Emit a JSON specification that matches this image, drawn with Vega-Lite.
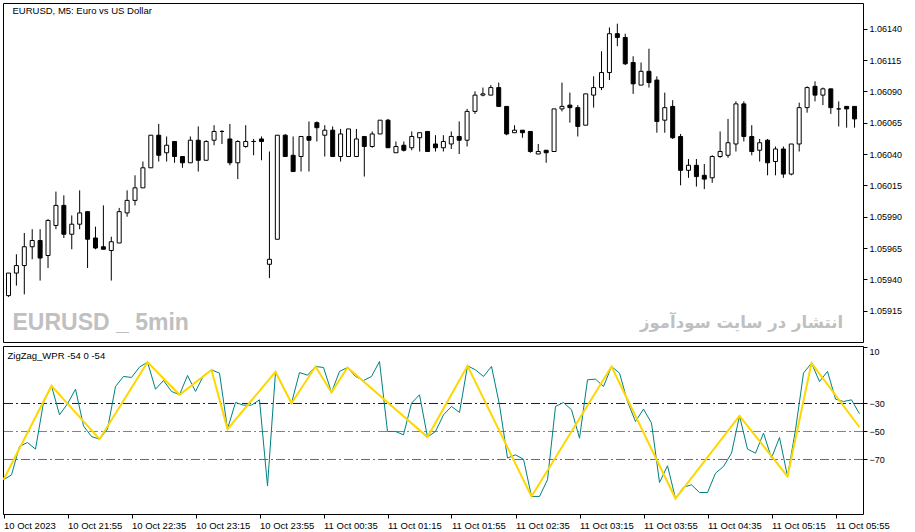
{
  "$schema": "https://vega.github.io/schema/vega-lite/v6.json",
  "padding": {"left": 2, "top": 2, "right": 0, "bottom": 0},
  "spacing": 2,
  "datasets": {
    "bars": [
      {"t": "2023-10-10T21:15", "o": 1.05927, "h": 1.05945, "l": 1.05926, "c": 1.05945, "w": -84.5},
      {"t": "2023-10-10T21:20", "o": 1.05945, "h": 1.0596, "l": 1.05935, "c": 1.05951, "w": -81},
      {"t": "2023-10-10T21:25", "o": 1.05951, "h": 1.05977, "l": 1.05928, "c": 1.05966, "w": -60.7},
      {"t": "2023-10-10T21:30", "o": 1.05966, "h": 1.0598, "l": 1.05956, "c": 1.05971, "w": -57.9},
      {"t": "2023-10-10T21:35", "o": 1.05971, "h": 1.0598, "l": 1.05939, "c": 1.05957, "w": -62.6},
      {"t": "2023-10-10T21:40", "o": 1.05959, "h": 1.05988, "l": 1.05949, "c": 1.05987, "w": -29.3},
      {"t": "2023-10-10T21:45", "o": 1.05983, "h": 1.0601, "l": 1.0598, "c": 1.05999, "w": -17.4},
      {"t": "2023-10-10T21:50", "o": 1.05999, "h": 1.06007, "l": 1.05973, "c": 1.05976, "w": -38.1},
      {"t": "2023-10-10T21:55", "o": 1.05976, "h": 1.05991, "l": 1.05964, "c": 1.05984, "w": -30.2},
      {"t": "2023-10-10T22:00", "o": 1.05984, "h": 1.06011, "l": 1.0598, "c": 1.05993, "w": -19.8},
      {"t": "2023-10-10T22:05", "o": 1.05994, "h": 1.05994, "l": 1.05949, "c": 1.05972, "w": -46},
      {"t": "2023-10-10T22:10", "o": 1.05973, "h": 1.05982, "l": 1.05964, "c": 1.05965, "w": -53.6},
      {"t": "2023-10-10T22:15", "o": 1.05966, "h": 1.05999, "l": 1.05964, "c": 1.05964, "w": -55.5},
      {"t": "2023-10-10T22:20", "o": 1.05963, "h": 1.05974, "l": 1.05939, "c": 1.0597, "w": -48.3},
      {"t": "2023-10-10T22:25", "o": 1.05969, "h": 1.05997, "l": 1.05969, "c": 1.05994, "w": -17.9},
      {"t": "2023-10-10T22:30", "o": 1.05993, "h": 1.06011, "l": 1.0599, "c": 1.06003, "w": -10.7},
      {"t": "2023-10-10T22:35", "o": 1.06003, "h": 1.06023, "l": 1.05999, "c": 1.06013, "w": -11.4},
      {"t": "2023-10-10T22:40", "o": 1.06013, "h": 1.06034, "l": 1.06013, "c": 1.06029, "w": -4},
      {"t": "2023-10-10T22:45", "o": 1.06029, "h": 1.06055, "l": 1.06029, "c": 1.06055, "w": -0.5},
      {"t": "2023-10-10T22:50", "o": 1.06055, "h": 1.06064, "l": 1.06034, "c": 1.06039, "w": -19.8},
      {"t": "2023-10-10T22:55", "o": 1.06041, "h": 1.06054, "l": 1.06034, "c": 1.06047, "w": -13.6},
      {"t": "2023-10-10T23:00", "o": 1.0605, "h": 1.0605, "l": 1.06033, "c": 1.06038, "w": -21.4},
      {"t": "2023-10-10T23:05", "o": 1.06038, "h": 1.06038, "l": 1.06029, "c": 1.06033, "w": -23.8},
      {"t": "2023-10-10T23:10", "o": 1.06033, "h": 1.06054, "l": 1.06033, "c": 1.06051, "w": -10},
      {"t": "2023-10-10T23:15", "o": 1.06051, "h": 1.06062, "l": 1.06026, "c": 1.06035, "w": -21.4},
      {"t": "2023-10-10T23:20", "o": 1.06035, "h": 1.06051, "l": 1.06035, "c": 1.0605, "w": -10.2},
      {"t": "2023-10-10T23:25", "o": 1.06051, "h": 1.06063, "l": 1.06047, "c": 1.06058, "w": -6},
      {"t": "2023-10-10T23:30", "o": 1.06058, "h": 1.06059, "l": 1.06048, "c": 1.06058, "w": -8.3},
      {"t": "2023-10-10T23:35", "o": 1.06052, "h": 1.06064, "l": 1.06031, "c": 1.06033, "w": -48.3},
      {"t": "2023-10-10T23:40", "o": 1.06033, "h": 1.06051, "l": 1.0602, "c": 1.0605, "w": -29.3},
      {"t": "2023-10-10T23:45", "o": 1.06046, "h": 1.06063, "l": 1.06045, "c": 1.0605, "w": -31.2},
      {"t": "2023-10-10T23:50", "o": 1.0605, "h": 1.06052, "l": 1.06039, "c": 1.0605, "w": -31.2},
      {"t": "2023-10-10T23:55", "o": 1.06052, "h": 1.06054, "l": 1.06035, "c": 1.0605, "w": -27.4},
      {"t": "2023-10-11T00:00", "o": 1.05952, "h": 1.06042, "l": 1.05941, "c": 1.05956, "w": -88.8},
      {"t": "2023-10-11T00:05", "o": 1.05972, "h": 1.06055, "l": 1.05972, "c": 1.06055, "w": -7.4},
      {"t": "2023-10-11T00:10", "o": 1.06055, "h": 1.06056, "l": 1.06038, "c": 1.06038, "w": -19},
      {"t": "2023-10-11T00:15", "o": 1.06039, "h": 1.06054, "l": 1.06026, "c": 1.06026, "w": -29.8},
      {"t": "2023-10-11T00:20", "o": 1.06038, "h": 1.06054, "l": 1.06026, "c": 1.06054, "w": -7.9},
      {"t": "2023-10-11T00:25", "o": 1.06054, "h": 1.06066, "l": 1.06026, "c": 1.06051, "w": -9.8},
      {"t": "2023-10-11T00:30", "o": 1.06065, "h": 1.06066, "l": 1.0605, "c": 1.06061, "w": -3.6},
      {"t": "2023-10-11T00:35", "o": 1.06055, "h": 1.06063, "l": 1.06038, "c": 1.06059, "w": -4.3},
      {"t": "2023-10-11T00:40", "o": 1.06059, "h": 1.06062, "l": 1.06038, "c": 1.06038, "w": -22.1},
      {"t": "2023-10-11T00:45", "o": 1.06038, "h": 1.0606, "l": 1.06034, "c": 1.06056, "w": -7.1},
      {"t": "2023-10-11T00:50", "o": 1.06038, "h": 1.0606, "l": 1.06038, "c": 1.0606, "w": -4.3},
      {"t": "2023-10-11T00:55", "o": 1.06038, "h": 1.0606, "l": 1.06038, "c": 1.06052, "w": -10.7},
      {"t": "2023-10-11T01:00", "o": 1.06054, "h": 1.06054, "l": 1.06022, "c": 1.06046, "w": -13.6},
      {"t": "2023-10-11T01:05", "o": 1.06046, "h": 1.06058, "l": 1.06045, "c": 1.06056, "w": -10.7},
      {"t": "2023-10-11T01:10", "o": 1.06056, "h": 1.06067, "l": 1.06056, "c": 1.06067, "w": 0},
      {"t": "2023-10-11T01:15", "o": 1.06067, "h": 1.06068, "l": 1.06045, "c": 1.06045, "w": -50},
      {"t": "2023-10-11T01:20", "o": 1.06041, "h": 1.0605, "l": 1.06041, "c": 1.06046, "w": -50},
      {"t": "2023-10-11T01:25", "o": 1.06047, "h": 1.0605, "l": 1.06042, "c": 1.06043, "w": -52.4},
      {"t": "2023-10-11T01:30", "o": 1.06045, "h": 1.06058, "l": 1.06043, "c": 1.06054, "w": -29.8},
      {"t": "2023-10-11T01:35", "o": 1.06053, "h": 1.06057, "l": 1.06042, "c": 1.06057, "w": -23.8},
      {"t": "2023-10-11T01:40", "o": 1.06058, "h": 1.06058, "l": 1.06042, "c": 1.06042, "w": -54},
      {"t": "2023-10-11T01:45", "o": 1.06048, "h": 1.06055, "l": 1.06042, "c": 1.06045, "w": -50},
      {"t": "2023-10-11T01:50", "o": 1.06045, "h": 1.06055, "l": 1.06042, "c": 1.0605, "w": -38.1},
      {"t": "2023-10-11T01:55", "o": 1.06048, "h": 1.06058, "l": 1.06044, "c": 1.06054, "w": -32.1},
      {"t": "2023-10-11T02:00", "o": 1.06054, "h": 1.06066, "l": 1.0604, "c": 1.06051, "w": -36.4},
      {"t": "2023-10-11T02:05", "o": 1.06051, "h": 1.06076, "l": 1.06046, "c": 1.06074, "w": -3.1},
      {"t": "2023-10-11T02:10", "o": 1.06074, "h": 1.0609, "l": 1.06072, "c": 1.06087, "w": -6},
      {"t": "2023-10-11T02:15", "o": 1.06087, "h": 1.06093, "l": 1.06086, "c": 1.06088, "w": -10.7},
      {"t": "2023-10-11T02:20", "o": 1.06087, "h": 1.06095, "l": 1.06087, "c": 1.06093, "w": -3.6},
      {"t": "2023-10-11T02:25", "o": 1.06093, "h": 1.06097, "l": 1.06078, "c": 1.06078, "w": -31},
      {"t": "2023-10-11T02:30", "o": 1.06078, "h": 1.06078, "l": 1.06055, "c": 1.06056, "w": -69},
      {"t": "2023-10-11T02:35", "o": 1.06057, "h": 1.06063, "l": 1.06057, "c": 1.06059, "w": -66.7},
      {"t": "2023-10-11T02:40", "o": 1.06059, "h": 1.06059, "l": 1.06053, "c": 1.06057, "w": -69.8},
      {"t": "2023-10-11T02:45", "o": 1.06058, "h": 1.06058, "l": 1.06041, "c": 1.06042, "w": -96.4},
      {"t": "2023-10-11T02:50", "o": 1.0604, "h": 1.06048, "l": 1.0604, "c": 1.06042, "w": -96.4},
      {"t": "2023-10-11T02:55", "o": 1.06043, "h": 1.06043, "l": 1.06033, "c": 1.06041, "w": -84.5},
      {"t": "2023-10-11T03:00", "o": 1.06042, "h": 1.06076, "l": 1.06042, "c": 1.06076, "w": -32.1},
      {"t": "2023-10-11T03:05", "o": 1.06076, "h": 1.06097, "l": 1.06074, "c": 1.06078, "w": -29.3},
      {"t": "2023-10-11T03:10", "o": 1.06079, "h": 1.06089, "l": 1.06065, "c": 1.06077, "w": -34.5},
      {"t": "2023-10-11T03:15", "o": 1.06077, "h": 1.06079, "l": 1.06054, "c": 1.06062, "w": -54.8},
      {"t": "2023-10-11T03:20", "o": 1.06063, "h": 1.06088, "l": 1.06063, "c": 1.06088, "w": -13.1},
      {"t": "2023-10-11T03:25", "o": 1.06087, "h": 1.06102, "l": 1.06077, "c": 1.06093, "w": -12.6},
      {"t": "2023-10-11T03:30", "o": 1.06093, "h": 1.06122, "l": 1.06091, "c": 1.06105, "w": -17.9},
      {"t": "2023-10-11T03:35", "o": 1.06105, "h": 1.06141, "l": 1.06099, "c": 1.06136, "w": -3.6},
      {"t": "2023-10-11T03:40", "o": 1.06136, "h": 1.06144, "l": 1.06126, "c": 1.06133, "w": -8.3},
      {"t": "2023-10-11T03:45", "o": 1.06133, "h": 1.06136, "l": 1.06111, "c": 1.06112, "w": -28.6},
      {"t": "2023-10-11T03:50", "o": 1.06113, "h": 1.06118, "l": 1.06088, "c": 1.06096, "w": -42.9},
      {"t": "2023-10-11T03:55", "o": 1.06095, "h": 1.06113, "l": 1.06095, "c": 1.06106, "w": -34},
      {"t": "2023-10-11T04:00", "o": 1.06106, "h": 1.06124, "l": 1.06093, "c": 1.06097, "w": -44},
      {"t": "2023-10-11T04:05", "o": 1.06099, "h": 1.06102, "l": 1.06057, "c": 1.06066, "w": -86.4},
      {"t": "2023-10-11T04:10", "o": 1.06067, "h": 1.06089, "l": 1.06057, "c": 1.06077, "w": -74.5},
      {"t": "2023-10-11T04:15", "o": 1.06078, "h": 1.06083, "l": 1.06052, "c": 1.06053, "w": -97.9},
      {"t": "2023-10-11T04:20", "o": 1.06054, "h": 1.06056, "l": 1.06015, "c": 1.06027, "w": -89.8},
      {"t": "2023-10-11T04:25", "o": 1.06027, "h": 1.06036, "l": 1.06021, "c": 1.06031, "w": -88.1},
      {"t": "2023-10-11T04:30", "o": 1.06031, "h": 1.06036, "l": 1.06014, "c": 1.06022, "w": -93.6},
      {"t": "2023-10-11T04:35", "o": 1.06023, "h": 1.06032, "l": 1.06012, "c": 1.0602, "w": -93.6},
      {"t": "2023-10-11T04:40", "o": 1.06021, "h": 1.06039, "l": 1.06017, "c": 1.06038, "w": -79.8},
      {"t": "2023-10-11T04:45", "o": 1.06038, "h": 1.06058, "l": 1.06037, "c": 1.06042, "w": -75},
      {"t": "2023-10-11T04:50", "o": 1.06039, "h": 1.06068, "l": 1.06037, "c": 1.06049, "w": -65.5},
      {"t": "2023-10-11T04:55", "o": 1.06048, "h": 1.06082, "l": 1.06042, "c": 1.0608, "w": -38.8},
      {"t": "2023-10-11T05:00", "o": 1.0608, "h": 1.06082, "l": 1.0605, "c": 1.06054, "w": -62.6},
      {"t": "2023-10-11T05:05", "o": 1.06054, "h": 1.06063, "l": 1.06039, "c": 1.06042, "w": -65.5},
      {"t": "2023-10-11T05:10", "o": 1.06043, "h": 1.06052, "l": 1.06034, "c": 1.06049, "w": -51.2},
      {"t": "2023-10-11T05:15", "o": 1.06051, "h": 1.06052, "l": 1.06023, "c": 1.06033, "w": -69},
      {"t": "2023-10-11T05:20", "o": 1.06034, "h": 1.06046, "l": 1.06023, "c": 1.06044, "w": -54.3},
      {"t": "2023-10-11T05:25", "o": 1.06044, "h": 1.06046, "l": 1.06021, "c": 1.06024, "w": -82.1},
      {"t": "2023-10-11T05:30", "o": 1.06024, "h": 1.06048, "l": 1.06023, "c": 1.06048, "w": -48.8},
      {"t": "2023-10-11T05:35", "o": 1.06048, "h": 1.06081, "l": 1.06042, "c": 1.06077, "w": -8.3},
      {"t": "2023-10-11T05:40", "o": 1.06077, "h": 1.06094, "l": 1.06073, "c": 1.06093, "w": -1.2},
      {"t": "2023-10-11T05:45", "o": 1.06094, "h": 1.06098, "l": 1.06082, "c": 1.06087, "w": -14.3},
      {"t": "2023-10-11T05:50", "o": 1.06087, "h": 1.06093, "l": 1.06079, "c": 1.06092, "w": -7.1},
      {"t": "2023-10-11T05:55", "o": 1.06092, "h": 1.06092, "l": 1.06072, "c": 1.06077, "w": -26.9},
      {"t": "2023-10-11T06:00", "o": 1.06076, "h": 1.06082, "l": 1.06062, "c": 1.06076, "w": -28.6},
      {"t": "2023-10-11T06:05", "o": 1.06078, "h": 1.06078, "l": 1.06061, "c": 1.06076, "w": -27.4},
      {"t": "2023-10-11T06:10", "o": 1.06078, "h": 1.06078, "l": 1.06061, "c": 1.06068, "w": -37.4}
    ],
    "zigzag": [
      {"t": "2023-10-10T21:15", "v": -84.5},
      {"t": "2023-10-10T21:45", "v": -17.4},
      {"t": "2023-10-10T22:15", "v": -55.5},
      {"t": "2023-10-10T22:45", "v": -0.5},
      {"t": "2023-10-10T23:05", "v": -23.8},
      {"t": "2023-10-10T23:25", "v": -6},
      {"t": "2023-10-10T23:35", "v": -48.3},
      {"t": "2023-10-11T00:05", "v": -7.4},
      {"t": "2023-10-11T00:15", "v": -29.8},
      {"t": "2023-10-11T00:30", "v": -3.6},
      {"t": "2023-10-11T00:40", "v": -22.1},
      {"t": "2023-10-11T00:50", "v": -4.3},
      {"t": "2023-10-11T01:40", "v": -54},
      {"t": "2023-10-11T02:05", "v": -3.1},
      {"t": "2023-10-11T02:45", "v": -96.4},
      {"t": "2023-10-11T03:35", "v": -3.6},
      {"t": "2023-10-11T04:15", "v": -97.9},
      {"t": "2023-10-11T04:55", "v": -38.8},
      {"t": "2023-10-11T05:25", "v": -82.1},
      {"t": "2023-10-11T05:40", "v": -1.2},
      {"t": "2023-10-11T06:10", "v": -47}
    ]
  },
  "vconcat": [
    {
      "width": 860,
      "height": 339,
      "encoding": {
        "y": {"type": "quantitative",
          "scale": {"domain": [1.0589, 1.061605], "zero": false, "nice": false},
          "axis": {"orient": "right", "title": null, "grid": false, "domain": false, "format": ".5f", "tickSize": 4, "labelPadding": 2, "labelOverlap": false,
            "values": [1.05915, 1.0594, 1.05965, 1.0599, 1.06015, 1.0604, 1.06065, 1.0609, 1.06115, 1.0614]}}
      },
      "layer": [
        {
          "data": {"name": "bars"},
          "mark": {"type": "rule", "color": "black", "strokeWidth": 1, "clip": true},
          "encoding": {
            "x": {"field": "t", "type": "temporal", "axis": null,
              "scale": {"domain": [{"year": 2023, "month": 10, "date": 10, "hours": 21, "minutes": 14, "seconds": 41, "milliseconds": 250}, {"year": 2023, "month": 10, "date": 11, "hours": 6, "minutes": 12, "seconds": 11, "milliseconds": 250}]}},
            "y": {"field": "l"},
            "y2": {"field": "h"}
          }
        },
        {
          "data": {"name": "bars"},
          "mark": {"type": "bar", "size": 4, "stroke": "black", "strokeWidth": 1, "clip": true},
          "encoding": {
            "x": {"field": "t", "type": "temporal", "axis": null},
            "y": {"field": "o"},
            "y2": {"field": "c"},
            "fill": {"condition": {"test": "datum.o > datum.c", "value": "black"}, "value": "white"}
          }
        },
        {
          "data": {"values": [{}]},
          "mark": {"type": "text", "text": "EURUSD, M5:  Euro vs US Dollar", "align": "left", "baseline": "middle", "dx": 4, "fontSize": 9.5, "color": "black"},
          "encoding": {
            "x": {"datum": {"year": 2023, "month": 10, "date": 10, "hours": 21, "minutes": 15}, "type": "temporal", "axis": null},
            "y": {"datum": 1.061545}
          }
        },
        {
          "data": {"values": [{}]},
          "mark": {"type": "text", "text": "EURUSD _ 5min", "align": "left", "baseline": "middle", "dx": 4, "font": "Liberation Sans", "fontWeight": "bold", "fontSize": 23, "color": "#c0c0c0"},
          "encoding": {
            "x": {"datum": {"year": 2023, "month": 10, "date": 10, "hours": 21, "minutes": 15}, "type": "temporal", "axis": null},
            "y": {"datum": 1.05905}
          }
        },
        {
          "data": {"values": [{}]},
          "mark": {"type": "text", "text": "انتشار در سایت سودآموز", "align": "right", "baseline": "middle", "font": "DejaVu Sans", "fontWeight": "bold", "fontSize": 16.5, "color": "#c0c0c0"},
          "encoding": {
            "x": {"datum": {"year": 2023, "month": 10, "date": 11, "hours": 6, "minutes": 2, "seconds": 45}, "type": "temporal", "axis": null},
            "y": {"datum": 1.059055}
          }
        }
      ]
    },
    {
      "width": 860,
      "height": 168,
      "layer": [
        {
          "data": {"values": [{}]},
          "mark": {"type": "rule", "color": "#0000ff", "strokeWidth": 1, "strokeDash": [9, 3, 2, 3]},
          "encoding": {"y": {"datum": -30, "type": "quantitative"}}
        },
        {
          "data": {"values": [{}]},
          "mark": {"type": "rule", "color": "#808080", "strokeWidth": 1, "strokeDash": [9, 3, 2, 3]},
          "encoding": {"y": {"datum": -50, "type": "quantitative"}}
        },
        {
          "data": {"values": [{}]},
          "mark": {"type": "rule", "color": "#ff00ff", "strokeWidth": 1, "strokeDash": [9, 3, 2, 3]},
          "encoding": {"y": {"datum": -70, "type": "quantitative"}}
        },
        {
          "data": {"name": "bars"},
          "mark": {"type": "line", "color": "#008080", "strokeWidth": 1, "clip": true},
          "encoding": {
            "x": {"field": "t", "type": "temporal",
              "scale": {"domain": [{"year": 2023, "month": 10, "date": 10, "hours": 21, "minutes": 14, "seconds": 41, "milliseconds": 250}, {"year": 2023, "month": 10, "date": 11, "hours": 6, "minutes": 12, "seconds": 11, "milliseconds": 250}]},
              "axis": {"title": null, "grid": false, "domain": false, "tickSize": 4, "labelPadding": 2, "labelAlign": "left", "labelFlush": false, "labelOverlap": false, "labelFontSize": 9.5,
                "values": [
                  {"year": 2023, "month": 10, "date": 10, "hours": 21, "minutes": 15},
                  {"year": 2023, "month": 10, "date": 10, "hours": 21, "minutes": 55},
                  {"year": 2023, "month": 10, "date": 10, "hours": 22, "minutes": 35},
                  {"year": 2023, "month": 10, "date": 10, "hours": 23, "minutes": 15},
                  {"year": 2023, "month": 10, "date": 10, "hours": 23, "minutes": 55},
                  {"year": 2023, "month": 10, "date": 11, "hours": 0, "minutes": 35},
                  {"year": 2023, "month": 10, "date": 11, "hours": 1, "minutes": 15},
                  {"year": 2023, "month": 10, "date": 11, "hours": 1, "minutes": 55},
                  {"year": 2023, "month": 10, "date": 11, "hours": 2, "minutes": 35},
                  {"year": 2023, "month": 10, "date": 11, "hours": 3, "minutes": 15},
                  {"year": 2023, "month": 10, "date": 11, "hours": 3, "minutes": 55},
                  {"year": 2023, "month": 10, "date": 11, "hours": 4, "minutes": 35},
                  {"year": 2023, "month": 10, "date": 11, "hours": 5, "minutes": 15},
                  {"year": 2023, "month": 10, "date": 11, "hours": 5, "minutes": 55}
                ],
                "labelExpr": "datum.index == 0 ? '10 Oct 2023' : timeFormat(datum.value, '%d %b %H:%M')"}},
            "y": {"field": "w", "type": "quantitative",
              "scale": {"domain": [-108.95, 11.05], "zero": false, "nice": false},
              "axis": {"orient": "right", "title": null, "grid": false, "domain": false, "tickSize": 4, "labelPadding": 2, "labelFlush": 3, "labelOverlap": false,
                "values": [10, -30, -50, -70, -109]}}
          }
        },
        {
          "data": {"name": "zigzag"},
          "mark": {"type": "line", "color": "#ffd700", "strokeWidth": 2, "clip": true},
          "encoding": {
            "x": {"field": "t", "type": "temporal"},
            "y": {"field": "v", "type": "quantitative"}
          }
        },
        {
          "data": {"values": [{}]},
          "mark": {"type": "text", "text": "ZigZag_WPR -54 0 -54", "align": "left", "baseline": "middle", "dx": 4, "fontSize": 9.5, "color": "black"},
          "encoding": {
            "x": {"datum": {"year": 2023, "month": 10, "date": 10, "hours": 21, "minutes": 15}, "type": "temporal"},
            "y": {"datum": 3.8, "type": "quantitative"}
          }
        }
      ]
    }
  ],
  "resolve": {"scale": {"x": "independent", "y": "independent"}},
  "config": {
    "font": "Liberation Sans",
    "view": {"stroke": "black", "strokeWidth": 1},
    "axis": {"labelFont": "Liberation Sans", "labelFontSize": 9, "labelColor": "black", "tickColor": "black", "labelOverlap": false}
  }
}
